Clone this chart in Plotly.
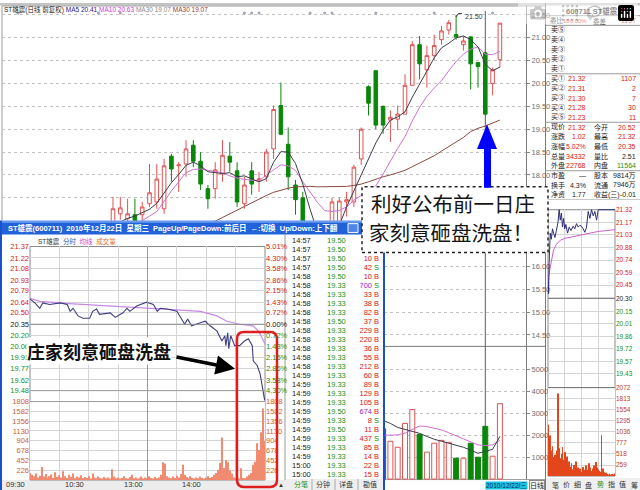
import plotly.graph_objects as go

# ============================ DATA ============================
# daily K-line of ST雄震 (600711), bar index 0..53 (cursor bar = 2010-12-22)
k_open = [16.98, 17.15, 17.04, 17.13, 17.13, 17.37, 17.41, 17.26, 18.41, 18.20,
          18.24, 18.65, 18.30, 17.70, 17.70, 18.02, 18.41, 18.09, 17.37, 18.09,
          17.89, 17.96, 18.57, 19.52, 18.67, 17.78, 17.50, 16.76, 16.45, 16.30,
          16.55, 16.95, 17.41, 17.41, 18.35, 19.93, 20.28, 19.50, 19.20, 19.22,
          19.33, 19.96, 20.85, 20.30, 20.61, 20.96, 21.17, 21.07, 20.85, 21.02,
          20.46, 20.67, 20.00, 20.52]
k_high = [17.52, 17.52, 17.48, 17.48, 17.41, 18.24, 18.24, 18.35, 18.46, 18.28,
          18.76, 18.76, 18.50, 17.78, 18.28, 18.76, 18.72, 18.28, 17.96, 18.28,
          18.07, 18.57, 19.52, 20.02, 19.04, 17.89, 17.63, 16.90, 16.60, 16.70,
          17.50, 17.50, 17.63, 18.22, 19.04, 19.96, 20.28, 19.52, 19.41, 19.52,
          20.20, 20.93, 21.04, 20.83, 21.07, 21.26, 21.39, 21.50, 21.04, 21.02,
          20.46, 20.70, 20.35, 21.32]
k_low = [16.87, 17.02, 16.98, 16.78, 16.90, 17.30, 17.26, 17.15, 17.85, 17.63,
         17.96, 18.17, 17.67, 17.26, 17.48, 17.85, 18.07, 17.30, 17.26, 17.57,
         17.63, 17.85, 18.35, 18.87, 17.67, 17.13, 16.54, 16.30, 16.10, 16.20,
         16.50, 16.90, 17.09, 17.30, 18.22, 19.30, 19.00, 18.90, 18.72, 18.98,
         19.33, 19.96, 20.09, 19.91, 20.52, 20.85, 21.07, 20.96, 20.72, 19.87,
         19.91, 19.33, 19.74, 20.35]
k_close = [17.26, 17.28, 17.15, 16.85, 17.30, 17.61, 17.91, 18.20, 18.13, 18.22,
           18.57, 18.30, 17.80, 17.48, 18.11, 18.43, 18.28, 17.41, 17.78, 17.80,
           17.91, 18.50, 19.43, 18.89, 17.96, 17.46, 16.76, 16.50, 16.35, 16.60,
           17.41, 17.43, 17.46, 18.17, 19.00, 19.57, 19.09, 19.09, 19.26, 19.33,
           19.96, 20.85, 20.43, 20.61, 20.83, 21.15, 21.33, 21.02, 20.93, 20.43,
           20.37, 19.33, 20.30, 21.32]
ma5 = [16.90, 16.98, 17.05, 17.10, 17.17, 17.25, 17.38, 17.60, 17.83, 18.01,
       18.21, 18.28, 18.20, 18.07, 18.05, 18.03, 18.05, 17.96, 17.98, 17.92,
       17.85, 17.92, 18.28, 18.51, 18.50, 18.25, 17.80, 17.25, 16.75, 16.45,
       16.55, 16.90, 17.30, 17.65, 18.00, 18.36, 18.70, 18.98, 19.20, 19.27,
       19.38, 19.70, 19.99, 20.26, 20.56, 20.78, 20.88, 21.00, 21.04, 20.96,
       20.80, 20.42, 20.28, 20.36]
ma10 = [16.70, 16.78, 16.86, 16.93, 17.00, 17.10, 17.20, 17.42, 17.65, 17.85,
        18.05, 18.12, 18.13, 18.10, 18.08, 18.05, 17.98, 17.93, 17.90, 17.88,
        17.87, 18.00, 18.12, 18.22, 18.20, 18.10, 17.85, 17.62, 17.40, 17.22,
        17.20, 17.22, 17.30, 17.45, 17.55, 17.62, 17.76, 18.02, 18.31, 18.58,
        18.84, 19.18, 19.48, 19.72, 19.90, 20.06, 20.28, 20.48, 20.64, 20.75,
        20.80, 20.64, 20.63, 20.70]
ma30 = [16.20, 16.27, 16.34, 16.40, 16.47, 16.54, 16.60, 16.67, 16.73, 16.79,
        16.84, 16.89, 16.93, 16.96, 16.99, 17.07, 17.15, 17.23, 17.31, 17.40,
        17.48, 17.55, 17.62, 17.67, 17.71, 17.74, 17.75, 17.75, 17.74, 17.74,
        17.74, 17.74, 17.75, 17.77, 17.80, 17.85, 17.91, 17.96, 18.00, 18.05,
        18.10, 18.18, 18.26, 18.34, 18.42, 18.52, 18.62, 18.72, 18.82, 18.95,
        19.02, 19.07, 19.13, 19.20]
main_price_ticks = [14.5, 15.0, 15.5, 16.0, 16.5, 17.0, 17.5, 18.0, 18.5, 19.0,
                    19.5, 20.0, 20.5, 21.0, 21.5]
covered_price_ticks = [16.5, 17.0, 17.5]          # labels hidden behind the note box
vol_idx = list(range(37, 54))
vol = [2300, 1730, 1455, 2545, 3180, 2045, 1230, 1640, 1770, 1680, 955, 955,
       1640, 1000, 2410, 1045, 3450]
vol_ma5 = [2680, 2545, 2360, 2270, 2180, 2090, 1950, 1820, 1730, 1640, 1545,
           1455, 1320, 1180, 1270, 1360, 1950]
vol_ma10 = [2000, 2000, 2020, 2100, 2250, 2430, 2400, 2340, 2250, 2120, 1980,
            1820, 1680, 1560, 1530, 1560, 1770]
main_vol_ticks = [1000, 2000, 3000, 4000, 5000]
mark_idx = [-13, -2, 1, 18, 19, 20, 27, 29, 30, 36, 44, 52]
cursor_idx = 51
high_idx, high_val = 47, 21.50
header_parts = [("ST雄震(日线 前复权)", "#222222"), ("MA5 20.41", "#24248a"),
                ("MA10 20.63", "#d23cd2"), ("MA30 19.07", "#8c8c8c"),
                ("MA30 19.07", "#a04040")]

# intraday popup 2010-12-22
pop_prev_close = 20.35
pop_min = [0, 5, 10, 13, 20, 31, 38, 41, 44, 49, 54, 61, 64, 68, 71, 82, 87, 95, 99, 102,
           109, 119, 126, 130, 133, 140, 150, 155, 158, 161, 165, 174, 179, 184, 191,
           196, 199, 200, 202, 203, 205, 206, 209, 214, 219, 223, 227, 228, 232, 235,
           237, 240]
pop_price = [20.68, 20.63, 20.56, 20.63, 20.61, 20.63, 20.61, 20.52, 20.56, 20.46,
             20.43, 20.43, 20.52, 20.55, 20.48, 20.50, 20.44, 20.50, 20.56, 20.52,
             20.59, 20.64, 20.61, 20.52, 20.56, 20.55, 20.52, 20.42, 20.35, 20.42,
             20.33, 20.37, 20.39, 20.33, 20.26, 20.13, 20.20, 20.07, 20.24, 20.03,
             20.20, 20.17, 20.07, 20.07, 20.13, 20.16, 20.07, 19.87, 19.81, 19.70,
             19.57, 19.33]
pop_avg_min = [0, 10, 40, 71, 119, 150, 174, 191, 201, 214, 228, 234, 240]
pop_avg = [20.69, 20.65, 20.62, 20.60, 20.56, 20.54, 20.52, 20.46, 20.39, 20.35,
           20.33, 20.25, 20.09]
pop_vol = [160, 120, 90, 150, 60, 100, 300, 80, 140, 60,
           90, 130, 50, 180, 70, 110, 60, 200, 90, 50,
           120, 70, 150, 40, 80, 60, 110, 40, 70, 50,
           90, 30, 150, 60, 40, 80, 50, 30, 70, 40,
           60, 30, 250, 80, 40, 60, 30, 50, 90, 40,
           30, 70, 120, 40, 60, 30, 50, 80, 30, 60,
           40, 90, 50, 30, 70, 40, 60, 120, 410, 380,
           90, 60, 40, 80, 50, 100, 60, 140, 350, 120,
           70, 40, 90, 50, 30, 60, 40, 80, 50, 30,
           60, 90, 50, 70, 120, 160, 240, 400, 980, 280,
           460, 410, 220, 150, 60, 40, 70, 30, 270, 50,
           40, 80, 120, 160, 350, 420, 850, 690, 1100, 1650,
           900]
pop_price_ticks = [21.37, 21.22, 21.08, 20.93, 20.79, 20.64, 20.50, 20.35, 20.20,
                   20.06, 19.91, 19.77, 19.62, 19.48]
pop_pct_labels = ["5.01%", "4.30%", "3.58%", "2.86%", "2.15%", "1.43%", "0.72%",
                  "0.00%", "0.72%", "1.43%", "2.15%", "2.86%", "3.58%", "4.30%"]
pop_vol_ticks = [226, 452, 678, 904, 1130, 1356, 1582, 1808]
time_ticks = [0, 30, 60, 90, 120, 150, 180, 210, 240]
time_label_min = [0, 60, 120, 180]
time_labels = ["09:30", "10:30", "13:00", "14:00"]
pop_title = "ST雄震(600711)  2010年12月22日  星期三  PageUp/PageDown:前后日  ←:切换  Up/Down:上下翻"

# tick-by-tick list (first two volumes are hidden behind the note box)
tick_time = ["14:57"] * 4 + ["14:58"] * 11 + ["14:59"] * 10 + ["15:00"] * 2
tick_price = [19.50, 19.50, 19.50, 19.50, 19.50, 19.33, 19.33, 19.33, 19.33, 19.50,
              19.33, 19.33, 19.33, 19.33, 19.33, 19.33, 19.33, 19.33, 19.33, 19.50,
              19.33, 19.50, 19.33, 19.33, 19.33, 19.33, 19.33]
tick_vol = [None, None, 10, 42, 10, 700, 33, 38, 82, 37, 229, 220, 36, 55, 212, 60, 89,
            129, 105, 674, 8, 11, 437, 85, 14, 22, 15]
tick_bs = ["", "", "B", "S", "B", "S", "B", "B", "B", "B", "B", "B", "B", "B",
           "B", "B", "B", "B", "B", "B", "S", "B", "S", "B", "B", "B", "B"]
tick_tabs = ["分笔", "分钟", "详盘", "勘值"]

# quote panel
info_header = "600711 ST雄震"
sell_labels = ["卖⑤", "卖④", "卖③", "卖②", "卖①"]
buy_labels = ["买①", "买②", "买③", "买④", "买⑤"]
buy_price = [21.32, 21.31, 21.30, 21.28, 21.23]
buy_vol = [1107, 2, 7, 30, 11]
stat_l1 = ["现价", "涨跌", "涨幅", "总量", "外盘"]
stat_v1 = ["21.32", "1.02", "5.02%", "34332", "22768"]
stat_l2 = ["今开", "最高", "最低", "量比", "内盘"]
stat_v2 = ["20.52", "21.32", "20.35", "2.51", "11564"]
fund_l1 = ["市盈", "换手", "净资"]
fund_v1 = ["—", "4.3%", "1.77"]
fund_l2 = ["股本", "流通", "收益(三)"]
fund_v2 = ["9814万", "7946万", "-0.01"]

# mini intraday (last day)
mini_prev_close = 20.30
mini_min = [0, 1, 2, 4, 6, 8, 12, 16, 20, 25, 30, 36, 40, 44, 48, 52, 56, 60, 64, 70,
            76, 82, 90, 96, 102, 108, 114, 120, 126, 132, 138, 144, 150, 156, 162, 168,
            174, 180, 240]
mini_price = [20.52, 20.40, 20.35, 20.70, 20.95, 21.05, 20.98, 21.10, 21.05, 21.00,
              21.08, 21.18, 21.32, 21.20, 21.28, 21.12, 21.22, 21.10, 21.15, 21.05,
              21.12, 21.08, 21.13, 21.10, 21.16, 21.12, 21.14, 21.13, 21.10, 21.06,
              21.12, 21.30, 21.22, 21.32, 21.25, 21.30, 21.20, 21.32, 21.32]
mini_avg_min = [0, 5, 10, 15, 20, 30, 45, 60, 90, 120, 150, 180, 210, 240]
mini_avg = [20.52, 20.60, 20.72, 20.80, 20.86, 20.92, 20.97, 20.99, 21.01, 21.03,
            21.05, 21.07, 21.08, 21.09]
mini_vol = [1200, 800, 950, 600, 700, 450, 500, 380, 600, 1937,
            650, 420, 520, 680, 380, 560, 300, 460, 260, 340,
            220, 300, 160, 260, 200, 340, 150, 200, 120, 170,
            100, 210, 150, 120, 250, 100, 150, 300, 200, 120,
            180, 250, 150, 330, 200, 160, 120, 100, 957, 180,
            90, 60, 80, 50, 40, 60, 30, 50, 40, 30, 60]
mini_price_ticks = [21.32, 21.17, 21.03, 20.88, 20.74, 20.59, 20.45, 20.30, 20.15,
                    20.01, 19.86, 19.72, 19.57, 19.43]
mini_vol_ticks = [259, 518, 777, 1036, 1295, 1554, 1813, 2072]
mini_tabs = ["笔", "价", "细", "盘", "势", "指", "值", "筹"]

note_big = ["利好公布前一日庄", "家刻意砸盘洗盘！"]
note_small = "庄家刻意砸盘洗盘"
cursor_date = "2010/12/22/三"

# ============================ LAYOUT HELPERS ============================
W, H = 640, 490
def PX(x): return x / W
def PY(y): return 1 - y / H
def P(x, y): return f"{PX(x):.5f},{PY(y):.5f}"

PIX0, STEP = 113.0, 7.3
def k_idx_at(px): return (px - PIX0) / STEP
def k_price_at(py): return 21.5 - (py - 12) / 46.0
def k_vol_at(py): return (479 - py) / 0.022
def pop_price_at(py): return 21.37 - (py - 245) / 76.72
def mini_price_at(py): return 21.32 - (py - 208) / 87.3

UP, DN = "#e05252", "#0a870a"
RED, GRN, BLK = "#d82020", "#169016", "#1a1a1a"
GRID_DOT, AXTXT = "#c2c2c2", "#6e6e6e"
FONT = "Liberation Sans, Noto Sans CJK SC"
CJK = "Noto Sans CJK SC"

def span(t, c): return f"<span style='color:{c}'>{t}</span>"
def pcol(v, ref): return RED if v > ref + 1e-9 else (BLK if abs(v - ref) < 1e-9 else GRN)

fig = go.Figure()
SK = dict(showlegend=False, hoverinfo="skip")

# ---- main K-line (two clip windows sharing one scale) ----
k_x = list(range(len(k_close)))
for xa, ya in (("x", "y"), ("x2", "y2")):
    fig.add_trace(go.Candlestick(x=k_x, open=k_open, high=k_high, low=k_low, close=k_close,
                                 increasing=dict(line=dict(color=UP, width=1), fillcolor="white"),
                                 decreasing=dict(line=dict(color=DN, width=1), fillcolor=DN),
                                 whiskerwidth=0, xaxis=xa, yaxis=ya, **SK))
    for vals, col in ((ma30, "#8a4a3e"), (ma10, "#d070d0"), (ma5, "#3c3c4a")):
        fig.add_trace(go.Scatter(x=k_x, y=vals, mode="lines", line=dict(color=col, width=1),
                                 xaxis=xa, yaxis=ya, **SK))
fig.add_trace(go.Scatter(x=mark_idx, y=[21.54] * len(mark_idx), mode="markers",
                         marker=dict(size=3, color="#a4a4b8"), xaxis="x", yaxis="y", **SK))

# ---- main volume ----
up_flags = [k_close[i] >= k_open[i] for i in vol_idx]
fig.add_trace(go.Bar(x=vol_idx, y=vol, width=0.68,
                     marker=dict(color=["white" if u else DN for u in up_flags],
                                 line=dict(color=[UP if u else DN for u in up_flags], width=1)),
                     xaxis="x3", yaxis="y3", **SK))
fig.add_trace(go.Scatter(x=vol_idx, y=vol_ma10, mode="lines", line=dict(color="#d070d0", width=1),
                         xaxis="x3", yaxis="y3", **SK))
fig.add_trace(go.Scatter(x=vol_idx, y=vol_ma5, mode="lines", line=dict(color="#3c3c4a", width=1),
                         xaxis="x3", yaxis="y3", **SK))

# ---- popup intraday ----
pop_vol_min = list(range(0, 241, 2))
fig.add_trace(go.Bar(x=pop_vol_min, y=pop_vol, width=1.3, marker=dict(color="#f08a70", line=dict(width=0)),
                     xaxis="x5", yaxis="y5", **SK))
fig.add_trace(go.Scatter(x=pop_avg_min, y=pop_avg, mode="lines", line=dict(color="#c68ae6", width=1.2),
                         xaxis="x4", yaxis="y4", **SK))
fig.add_trace(go.Scatter(x=pop_min, y=pop_price, mode="lines", line=dict(color="#3e3e80", width=1.1),
                         xaxis="x4", yaxis="y4", **SK))
fig.add_trace(go.Scatter(x=[], y=[], xaxis="x4", yaxis="y10", **SK))
fig.add_trace(go.Scatter(x=[], y=[], xaxis="x5", yaxis="y11", **SK))

# ---- mini intraday ----
mini_vol_min = list(range(0, 241, 4))
fig.add_trace(go.Bar(x=mini_vol_min, y=mini_vol, width=2.8, marker=dict(color="#e2461a", line=dict(width=0)),
                     xaxis="x7", yaxis="y7", **SK))
fig.add_trace(go.Scatter(x=mini_avg_min, y=mini_avg, mode="lines", line=dict(color="#c860c8", width=1),
                         xaxis="x6", yaxis="y6", **SK))
fig.add_trace(go.Scatter(x=mini_min, y=mini_price, mode="lines", line=dict(color="#2c2c78", width=1),
                         xaxis="x6", yaxis="y6", **SK))

# ---- tick table ----
n = len(tick_time)
rows = list(range(n))
TF = dict(family=FONT, size=7.5)
fig.add_trace(go.Scatter(x=[7] * n, y=rows, text=tick_time, mode="text", textposition="middle right",
                         textfont=dict(TF, color=BLK), xaxis="x8", yaxis="y8", **SK))
fig.add_trace(go.Scatter(x=[42] * n, y=rows, text=[f"{p:.2f}" for p in tick_price], mode="text",
                         textposition="middle right",
                         textfont=dict(TF, color=[pcol(p, pop_prev_close) for p in tick_price]),
                         xaxis="x8", yaxis="y8", **SK))
fig.add_trace(go.Scatter(x=[87] * n, y=rows, text=["" if v is None else str(v) for v in tick_vol],
                         mode="text", textposition="middle left",
                         textfont=dict(TF, color=["#9a2cc8" if (v or 0) >= 500 else RED for v in tick_vol]),
                         xaxis="x8", yaxis="y8", **SK))
fig.add_trace(go.Scatter(x=[89] * n, y=rows, text=tick_bs, mode="text", textposition="middle right",
                         textfont=dict(TF, color=[RED if b == "B" else GRN for b in tick_bs]),
                         xaxis="x8", yaxis="y8", **SK))

# ============================ AXES ============================
def blank(dom, rng, anchor, **kw):
    d = dict(domain=dom, range=rng, anchor=anchor, showgrid=False, zeroline=False,
             showticklabels=False, ticks="", showline=False, fixedrange=True)
    d.update(kw)
    return d

def main_y(dom, rng, anchor, tv, hidden=()):
    return dict(domain=dom, range=rng, anchor=anchor, side="right", tickmode="array",
                tickvals=tv,
                ticktext=["" if v in hidden else (f"{v:.2f}" if v < 100 else str(v)) for v in tv],
                showgrid=True, gridcolor=GRID_DOT, griddash="dot", gridwidth=1, zeroline=False,
                ticks="outside", ticklen=3, tickcolor="#8a8a8a",
                tickfont=dict(family=FONT, size=7.5, color=AXTXT), showline=False, fixedrange=True)

GRID_S = "#d4d4d4"
lay = dict(width=W, height=H, margin=dict(l=0, r=0, t=0, b=0), paper_bgcolor="white",
           plot_bgcolor="white", showlegend=False, font=dict(family=FONT, size=8, color="#333"))
lay["xaxis"] = blank([PX(2), PX(526)], [k_idx_at(2), k_idx_at(526)], "y", rangeslider=dict(visible=False))
lay["yaxis"] = main_y([PY(219), PY(3)], [k_price_at(219), k_price_at(3)], "x", main_price_ticks,
                      covered_price_ticks)
lay["xaxis2"] = blank([PX(384), PX(526)], [k_idx_at(384), k_idx_at(526)], "y2", rangeslider=dict(visible=False))
lay["yaxis2"] = main_y([PY(345), PY(219)], [k_price_at(345), k_price_at(219)], "x2", main_price_ticks,
                       covered_price_ticks)
lay["xaxis3"] = blank([PX(384), PX(526)], [k_idx_at(384), k_idx_at(526)], "y3")
lay["yaxis3"] = main_y([PY(480), PY(346)], [k_vol_at(480), k_vol_at(346)], "x3", main_vol_ticks)

pop_rng = [pop_price_at(404), pop_price_at(244)]
lay["xaxis4"] = blank([PX(30), PX(265)], [0, 240], "y4", showgrid=True, gridcolor=GRID_S,
                      tickmode="array", tickvals=time_ticks)
lay["yaxis4"] = dict(domain=[PY(404), PY(244)], range=pop_rng, anchor="x4", side="left", tickmode="array",
                     tickvals=pop_price_ticks,
                     ticktext=[span(f"{v:.2f}", pcol(v, pop_prev_close)) for v in pop_price_ticks],
                     showgrid=True, gridcolor=GRID_S, zeroline=False, ticks="", showline=False,
                     tickfont=dict(family=FONT, size=7.5), fixedrange=True)
lay["yaxis10"] = dict(overlaying="y4", anchor="x4", side="right", range=pop_rng, tickmode="array",
                      tickvals=pop_price_ticks,
                      ticktext=[span(t, pcol(v, pop_prev_close)) for v, t in zip(pop_price_ticks, pop_pct_labels)],
                      showgrid=False, zeroline=False, ticks="", showline=False,
                      tickfont=dict(family=FONT, size=7.5), fixedrange=True)
vol_rng = [0, 1808 * 80 / 79]
lay["xaxis5"] = blank([PX(30), PX(265)], [0, 240], "y5", showgrid=True, gridcolor=GRID_S,
                      tickmode="array", tickvals=time_ticks)
lay["yaxis5"] = dict(domain=[PY(480), PY(400)], range=vol_rng, anchor="x5", side="left", tickmode="array",
                     tickvals=pop_vol_ticks, ticktext=[str(v) for v in pop_vol_ticks],
                     showgrid=True, gridcolor=GRID_S, zeroline=False, ticks="", showline=False,
                     tickfont=dict(family=FONT, size=7.5, color="#d0602c"), fixedrange=True)
lay["yaxis11"] = dict(overlaying="y5", anchor="x5", side="right", range=vol_rng, tickmode="array",
                      tickvals=pop_vol_ticks, ticktext=[str(v) for v in pop_vol_ticks],
                      showgrid=False, zeroline=False, ticks="", showline=False,
                      tickfont=dict(family=FONT, size=7.5, color="#d0602c"), fixedrange=True)

mini_rng = [mini_price_at(387), mini_price_at(207)]
lay["xaxis6"] = blank([PX(548), PX(615)], [0, 240], "y6", showgrid=True, gridcolor=GRID_S,
                      tickmode="array", tickvals=[0, 60, 120, 180, 240])
lay["yaxis6"] = dict(domain=[PY(387), PY(207)], range=mini_rng, anchor="x6", side="right", tickmode="array",
                     tickvals=mini_price_ticks,
                     ticktext=[span(f"{v:.2f}", pcol(v, mini_prev_close)) for v in mini_price_ticks],
                     showgrid=True, gridcolor=GRID_S, zeroline=False, ticks="", showline=False,
                     tickfont=dict(family=FONT, size=6.5), fixedrange=True)
lay["xaxis7"] = blank([PX(548), PX(615)], [0, 240], "y7", showgrid=True, gridcolor=GRID_S,
                      tickmode="array", tickvals=[0, 60, 120, 180, 240])
lay["yaxis7"] = dict(domain=[PY(476), PY(386)], range=[0, 2072 * 90 / 89], anchor="x7", side="right",
                     tickmode="array", tickvals=mini_vol_ticks, ticktext=[str(v) for v in mini_vol_ticks],
                     showgrid=True, gridcolor=GRID_S, zeroline=False, ticks="", showline=False,
                     tickfont=dict(family=FONT, size=6.5, color="#c04020"), fixedrange=True)
lay["xaxis8"] = blank([PX(285), PX(384)], [0, 99], "y8")
lay["yaxis8"] = blank([PY(479.5), PY(235.5)], [n - 0.5, -0.5], "x8")
lay["xaxis9"] = blank([PX(545), PX(640)], [0, 95], "y9")
lay["yaxis9"] = blank([PY(198), PY(3)], [19.5, -0.5], "x9")
fig.add_trace(go.Scatter(x=[], y=[], xaxis="x9", yaxis="y9", **SK))

# ============================ SHAPES ============================
def rect(x0, y0, x1, y1, fill=None, line=None, width=1, layer="above", dash=None):
    ln = dict(color=line, width=width) if line else dict(width=0)
    if dash: ln["dash"] = dash
    return dict(type="rect", xref="paper", yref="paper", x0=PX(x0), x1=PX(x1), y0=PY(y1), y1=PY(y0),
                fillcolor=fill or "rgba(0,0,0,0)", line=ln, layer=layer)

def hl(x0, x1, y, c, w=1, layer="below"):
    return dict(type="line", xref="paper", yref="paper", x0=PX(x0), x1=PX(x1), y0=PY(y), y1=PY(y),
                line=dict(color=c, width=w), layer=layer)

def vl(x, y0, y1, c, w=1, layer="below"):
    return dict(type="line", xref="paper", yref="paper", x0=PX(x), x1=PX(x), y0=PY(y0), y1=PY(y1),
                line=dict(color=c, width=w), layer=layer)

shapes = [
    rect(0, 0, 640, 2.5, fill="#c4c4c4", layer="below"),
    rect(2, 480, 285, 490, fill="#ececec", layer="below"),
    rect(285, 479, 384, 490, fill="#eeeeee", layer="below"),
    rect(546, 478, 640, 490, fill="#efefef", layer="below"),
    hl(2, 545, 3, "#9a9a9a"), vl(2, 3, 219, "#9a9a9a"),
    vl(526.5, 3, 480, "#7a7a7a"), hl(384, 545, 345.5, "#7a7a7a"), hl(384, 545, 479.5, "#9a9a9a"),
    vl(545.5, 0, 490, "#7a7a7a"),
    dict(type="line", xref="x", yref="paper", x0=cursor_idx, x1=cursor_idx, y0=PY(479), y1=PY(8),
         line=dict(color="#5a5a5a", width=1), layer="below"),
    rect(30, 245, 265, 480, line="#8a8a8a", layer="below"),
    dict(type="line", xref="x4 domain", yref="y4", x0=0, x1=1, y0=pop_prev_close, y1=pop_prev_close,
         line=dict(color="#8a8a8a", width=1), layer="above"),
    dict(type="line", xref="x4", yref="paper", x0=120, x1=120, y0=PY(480), y1=PY(245),
         line=dict(color="#9a9a9a", width=1), layer="above"),
    hl(30, 265, 390, "#9a9a9a", layer="above"), hl(30, 265, 401, "#9a9a9a", layer="above"),
    vl(285, 233, 480, "#9a9a9a"),
    rect(548, 208, 615, 476, line="#8a8a8a", layer="below"),
    dict(type="line", xref="x6 domain", yref="y6", x0=0, x1=1, y0=mini_prev_close, y1=mini_prev_close,
         line=dict(color="#6a6a6a", width=1), layer="above"),
    hl(548, 615, 387, "#6a6a6a", layer="above"),
]
for b in (0.5, 1.5, 6.5, 11.5, 16.5, 19.5):
    shapes.append(dict(type="line", xref="x9 domain", yref="y9", x0=0, x1=1, y0=b, y1=b,
                       line=dict(color="#9a9a9a", width=1), layer="below"))
for xs in (312, 335, 358):
    shapes.append(vl(xs, 479, 490, "#aaaaaa"))
shapes.append(dict(type="path", xref="paper", yref="paper",
                   path=f"M {P(456, 14)} L {P(458.5, 10.5)} L {P(462, 10.5)}",
                   line=dict(color="#333", width=1), layer="above"))
shapes += [
    rect(0, 219, 385, 233, fill="#2262d8"),
    rect(0, 219, 385, 221, fill="#6a9cf0"),
    rect(348, 222, 358, 231, fill="#4f85e8", line="white"),
    vl(1, 219, 490, "#1c4fc8", 2, "above"), vl(384, 219, 490, "#1c4fc8", 2, "above"),
    rect(362, 185, 548, 251, fill="white", line="#222222", width=1.5, dash="dot"),
]
arrow_pts = [(487, 122), (497, 147), (491, 147), (491, 186), (484, 186), (484, 147), (477, 147)]
shapes.append(dict(type="path", xref="paper", yref="paper",
                   path="M " + " L ".join(P(x, y) for x, y in arrow_pts) + " Z",
                   fillcolor="#0000ff", line=dict(width=0), layer="above"))
x0, y0, x1, y1, r = 237, 331, 277, 487, 7
rr = (f"M {P(x0 + r, y0)} L {P(x1 - r, y0)} Q {P(x1, y0)} {P(x1, y0 + r)} L {P(x1, y1 - r)} "
      f"Q {P(x1, y1)} {P(x1 - r, y1)} L {P(x0 + r, y1)} Q {P(x0, y1)} {P(x0, y1 - r)} "
      f"L {P(x0, y0 + r)} Q {P(x0, y0)} {P(x0 + r, y0)} Z")
shapes.append(dict(type="path", xref="paper", yref="paper", path=rr,
                   line=dict(color="#e01c1c", width=2.5), layer="above"))
lay["shapes"] = shapes

# ============================ ANNOTATIONS ============================
def ann(x, y, text, size=8, color="#222", xanchor="left", family=FONT, **kw):
    d = dict(xref="paper", yref="paper", x=PX(x), y=PY(y), text=text, showarrow=False,
             xanchor=xanchor, yanchor="middle", font=dict(family=family, size=size, color=color))
    d.update(kw)
    return d

anns = [
    ann(2, 6.5, " ".join(span(t, c) for t, c in header_parts), size=6.5),
    ann(463, 14, f"{high_val:.2f}", size=7, color="#333"),
    ann(369, 201, note_big[0], size=20.5, color="#141414", family=CJK),
    ann(367, 230, note_big[1], size=20.5, color="#141414", family=CJK),
    ann(26, 350, f"<b>{note_small}</b>", size=18, color="#111", family=CJK, bgcolor="white", borderpad=0),
    dict(xref="paper", yref="paper", x=PX(235), y=PY(368), text="", showarrow=True, ax=-60, ay=-12,
         arrowhead=2, arrowsize=1.1, arrowwidth=3.5, arrowcolor="black"),
    ann(6, 226, f"<b>{pop_title}</b>", size=7.5, color="white"),
    ann(36, 240, "  ".join([span("ST雄震", "#333"), span("分时", "#3050c0"), span("均线", "#d040d0"),
                            span("成交量", "#e07020")]), size=6.5),
    ann(281, 484.5, "▲", size=6, color="#333", xanchor="center"),
    ann(506, 485, cursor_date, size=6.5, color="#0a2a60", xanchor="center", bgcolor="#19c3e3", borderpad=0),
    ann(537, 485, "日线", size=7, color="#222", xanchor="center", bgcolor="#f4f4f4",
        bordercolor="#888", borderwidth=1, borderpad=0),
]
for m, t in zip(time_label_min, time_labels):
    anns.append(dict(xref="x5", yref="paper", x=m, y=PY(484.5), text=t, showarrow=False,
                     xanchor="right", yanchor="middle", xshift=-3,
                     font=dict(family=FONT, size=7.5, color="#333")))
for cx, t in zip((301, 323, 346, 370), tick_tabs):
    anns.append(ann(cx, 484.5, t, size=7, color=GRN if t == "分笔" else "#333", xanchor="center"))
for i, t in enumerate(mini_tabs):
    anns.append(ann(555 + i * 11.3, 484.5, t, size=7, color=GRN if t == "势" else "#333", xanchor="center"))

# quote panel text, placed on the panel's own row axis (x9 / y9)
def info(x, row, text, color=BLK, anchor="left", size=7):
    anns.append(dict(xref="x9", yref="y9", x=x, y=row, text=text, showarrow=False,
                     xanchor=anchor, yanchor="middle", font=dict(family=FONT, size=size, color=color)))

info(47, 0, f"<b>{info_header}</b>", anchor="center", size=7.5)
info(3, 1, "委比", size=6.5); info(44, 1, "100.00%", RED, "right", 6); info(46, 1, "委差", size=6.5)
info(93, 1, "1157", RED, "right")
for k, t in enumerate(sell_labels):
    info(4, 2 + k, t)
for k, (t, p, v) in enumerate(zip(buy_labels, buy_price, buy_vol)):
    info(4, 7 + k, t); info(43, 7 + k, f"{p:.2f}", RED, "right"); info(93, 7 + k, str(v), RED, "right")
v2_cols = [RED, RED, RED, BLK, GRN]
for k in range(5):
    info(4, 12 + k, stat_l1[k]); info(43, 12 + k, stat_v1[k], RED, "right")
    info(47, 12 + k, stat_l2[k]); info(93, 12 + k, stat_v2[k], v2_cols[k], "right")
for k in range(3):
    info(4, 17 + k, fund_l1[k]); info(43, 17 + k, fund_v1[k], BLK, "right")
    info(47, 17 + k, fund_l2[k]); info(93, 17 + k, fund_v2[k], BLK, "right")

lay["annotations"] = anns

fig.update_layout(**lay)
fig.write_html("out.html",
               post_script="document.body.style.margin='0';document.body.style.overflow='hidden';")
